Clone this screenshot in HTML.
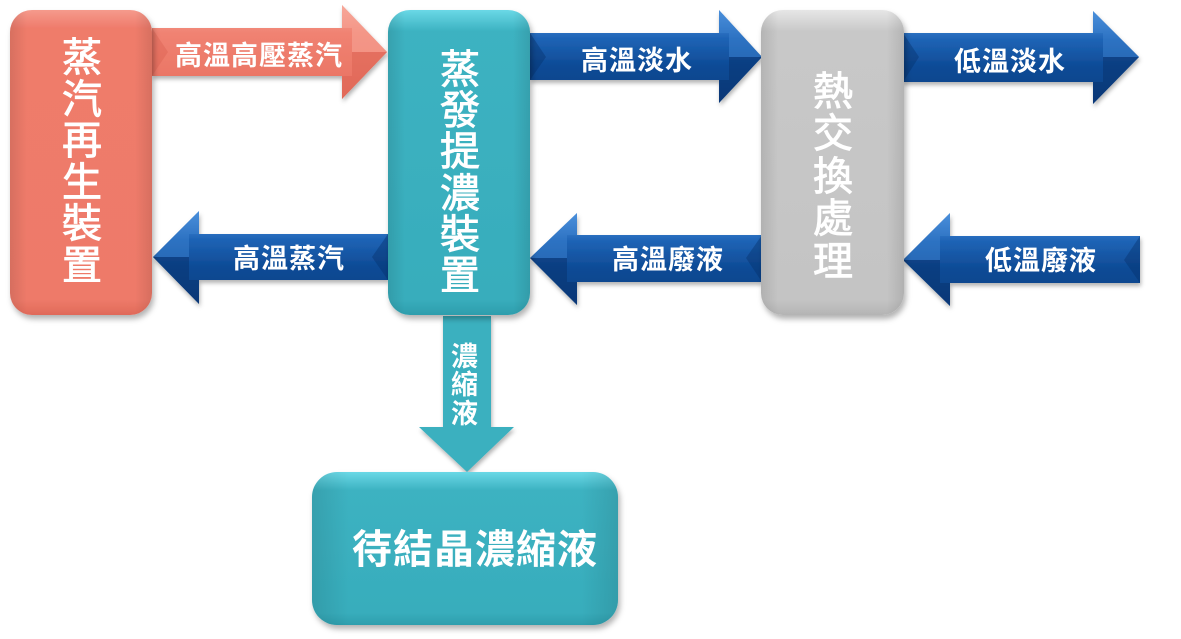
<!DOCTYPE html>
<html><head><meta charset="utf-8"><style>
html,body{margin:0;padding:0;background:#fff;}
svg{display:block;}
text{font-family:"Liberation Sans","Noto Sans CJK TC","Noto Sans CJK SC",sans-serif;fill:#fff;}
.al{font-size:27px;font-weight:700;letter-spacing:1px;}
.bl{font-size:40px;font-weight:400;stroke:#fff;stroke-width:0.9px;}
</style></head><body>
<svg width="1181" height="639" viewBox="0 0 1181 639" xmlns="http://www.w3.org/2000/svg">
<defs>
<filter id="sh" x="-20%" y="-20%" width="140%" height="140%"><feDropShadow dx="2" dy="4" stdDeviation="3" flood-color="#000" flood-opacity="0.3"/></filter>
<filter id="sh2" x="-20%" y="-20%" width="140%" height="140%"><feDropShadow dx="1" dy="3" stdDeviation="2" flood-color="#000" flood-opacity="0.3"/></filter>
<linearGradient id="gBlue" x1="0" y1="0" x2="0" y2="1">
<stop offset="0" stop-color="#5a9de6"/><stop offset="0.3" stop-color="#1f64b6"/><stop offset="0.6" stop-color="#0e4b96"/><stop offset="1" stop-color="#093f84"/>
</linearGradient>
<linearGradient id="gSal" x1="0" y1="0" x2="0" y2="1">
<stop offset="0" stop-color="#f6a496"/><stop offset="0.3" stop-color="#f08272"/><stop offset="1" stop-color="#e8705f"/>
</linearGradient>
<linearGradient id="bSal" x1="0" y1="0" x2="0" y2="1">
<stop offset="0" stop-color="#f59a8c"/><stop offset="0.06" stop-color="#ef7b6b"/><stop offset="0.95" stop-color="#ee7a69"/><stop offset="1" stop-color="#e06a5a"/>
</linearGradient>
<linearGradient id="bTeal" x1="0" y1="0" x2="0" y2="1">
<stop offset="0" stop-color="#6ad8e6"/><stop offset="0.07" stop-color="#3cb2c1"/><stop offset="0.95" stop-color="#38adbc"/><stop offset="1" stop-color="#2e9ead"/>
</linearGradient>
<linearGradient id="bTeal2" x1="0" y1="0" x2="0" y2="1">
<stop offset="0" stop-color="#6ad8e6"/><stop offset="0.12" stop-color="#3cb2c1"/><stop offset="0.92" stop-color="#38adbc"/><stop offset="1" stop-color="#2e9ead"/>
</linearGradient>
<linearGradient id="bGray" x1="0" y1="0" x2="0" y2="1">
<stop offset="0" stop-color="#e6e6e6"/><stop offset="0.07" stop-color="#c8c8c8"/><stop offset="0.95" stop-color="#c4c4c4"/><stop offset="1" stop-color="#b4b4b4"/>
</linearGradient>
<linearGradient id="edgeH" x1="0" y1="0" x2="1" y2="0">
<stop offset="0" stop-color="#000" stop-opacity="0.10"/><stop offset="0.12" stop-color="#000" stop-opacity="0"/><stop offset="0.88" stop-color="#000" stop-opacity="0"/><stop offset="1" stop-color="#000" stop-opacity="0.10"/>
</linearGradient>
</defs>

<!-- arrows -->
<g filter="url(#sh2)">
<polygon points="152,28 342,28 342,5 387,52 342,99 342,76 152,76" fill="url(#gSal)"/>
<polygon points="388,234 199,234 199,211 153,257 199,304 199,280 388,280" fill="url(#gBlue)"/>
<polygon points="530,33 719,33 719,10 762,57 719,103 719,80 530,80" fill="url(#gBlue)"/>
<polygon points="903,33 1093,33 1093,11 1139,57 1093,104 1093,82 903,82" fill="url(#gBlue)"/>
<polygon points="762,235 577,235 577,213 530,258 577,305 577,282 762,282" fill="url(#gBlue)"/>
<polygon points="1140,236 950,236 950,213 903,260 950,306 950,283 1140,283" fill="url(#gBlue)"/>
<polygon points="443,316 491,316 491,427 514,427 467,472 419,427 443,427" fill="#3ab0bf"/>
</g>
<!-- facets -->
<g>
<polygon points="342,5 387,52 352,52 352,28 342,28" fill="#f7a99c" opacity="0.5"/>
<polygon points="342,99 387,52 352,52 352,76 342,76" fill="#d9604f" opacity="0.45"/>
<polygon points="152,28 168,52 152,76" fill="#d9604f" opacity="0.4"/>
<polygon points="719,10 762,57 729,57 729,33 719,33" fill="#3b82d0" opacity="0.5"/>
<polygon points="719,103 762,57 729,57 729,80 719,80" fill="#062f68" opacity="0.45"/>
<polygon points="530,33 546,57 530,80" fill="#062f68" opacity="0.4"/>
<polygon points="1093,11 1139,57 1103,57 1103,33 1093,33" fill="#3b82d0" opacity="0.5"/>
<polygon points="1093,104 1139,57 1103,57 1103,82 1093,82" fill="#062f68" opacity="0.45"/>
<polygon points="903,33 919,57 903,82" fill="#062f68" opacity="0.4"/>
<polygon points="199,211 153,257 189,257 189,234 199,234" fill="#3b82d0" opacity="0.5"/>
<polygon points="199,304 153,257 189,257 189,280 199,280" fill="#062f68" opacity="0.45"/>
<polygon points="388,234 372,257 388,280" fill="#062f68" opacity="0.4"/>
<polygon points="577,213 530,258 567,258 567,235 577,235" fill="#3b82d0" opacity="0.5"/>
<polygon points="577,305 530,258 567,258 567,282 577,282" fill="#062f68" opacity="0.45"/>
<polygon points="762,235 746,258 762,282" fill="#062f68" opacity="0.4"/>
<polygon points="950,213 903,260 940,260 940,236 950,236" fill="#3b82d0" opacity="0.5"/>
<polygon points="950,306 903,260 940,260 940,283 950,283" fill="#062f68" opacity="0.45"/>
<polygon points="1140,236 1124,260 1140,283" fill="#062f68" opacity="0.4"/>
</g>

<!-- boxes -->
<g filter="url(#sh)">
<rect x="10" y="10" width="142" height="305" rx="22" fill="url(#bSal)"/>
<rect x="388" y="10" width="142" height="305" rx="22" fill="url(#bTeal)"/>
<rect x="761" y="10" width="143" height="305" rx="22" fill="url(#bGray)"/>
<rect x="312" y="472" width="306" height="153" rx="25" fill="url(#bTeal2)"/>
</g>
<rect x="10" y="10" width="142" height="305" rx="22" fill="url(#edgeH)"/>
<rect x="388" y="10" width="142" height="305" rx="22" fill="url(#edgeH)"/>
<rect x="761" y="10" width="143" height="305" rx="22" fill="url(#edgeH)"/>
<rect x="312" y="472" width="306" height="153" rx="25" fill="url(#edgeH)"/>

<!-- arrow labels -->
<text class="al" x="259" y="65" text-anchor="middle">高溫高壓蒸汽</text>
<text class="al" x="289" y="268" text-anchor="middle">高溫蒸汽</text>
<text class="al" x="637" y="70" text-anchor="middle">高溫淡水</text>
<text class="al" x="1010" y="71" text-anchor="middle">低溫淡水</text>
<text class="al" x="668" y="269" text-anchor="middle">高溫廢液</text>
<text class="al" x="1041" y="270" text-anchor="middle">低溫廢液</text>
<text class="al" x="465" y="366" text-anchor="middle">濃</text>
<text class="al" x="465" y="394" text-anchor="middle">縮</text>
<text class="al" x="465" y="423" text-anchor="middle">液</text>

<!-- box labels -->
<g text-anchor="middle">
<text class="bl" x="82" y="71">蒸</text>
<text class="bl" x="82" y="113">汽</text>
<text class="bl" x="82" y="154">再</text>
<text class="bl" x="82" y="196">生</text>
<text class="bl" x="82" y="237">裝</text>
<text class="bl" x="82" y="279">置</text>

<text class="bl" x="460" y="83">蒸</text>
<text class="bl" x="460" y="124">發</text>
<text class="bl" x="460" y="165">提</text>
<text class="bl" x="460" y="207">濃</text>
<text class="bl" x="460" y="248">裝</text>
<text class="bl" x="460" y="289">置</text>

<text class="bl" x="833" y="105">熱</text>
<text class="bl" x="833" y="147">交</text>
<text class="bl" x="833" y="190">換</text>
<text class="bl" x="833" y="232">處</text>
<text class="bl" x="833" y="275">理</text>
</g>
<text x="475" y="563" text-anchor="middle" style="font-size:40px;font-weight:700;letter-spacing:1px;">待結晶濃縮液</text>
</svg>
</body></html>
